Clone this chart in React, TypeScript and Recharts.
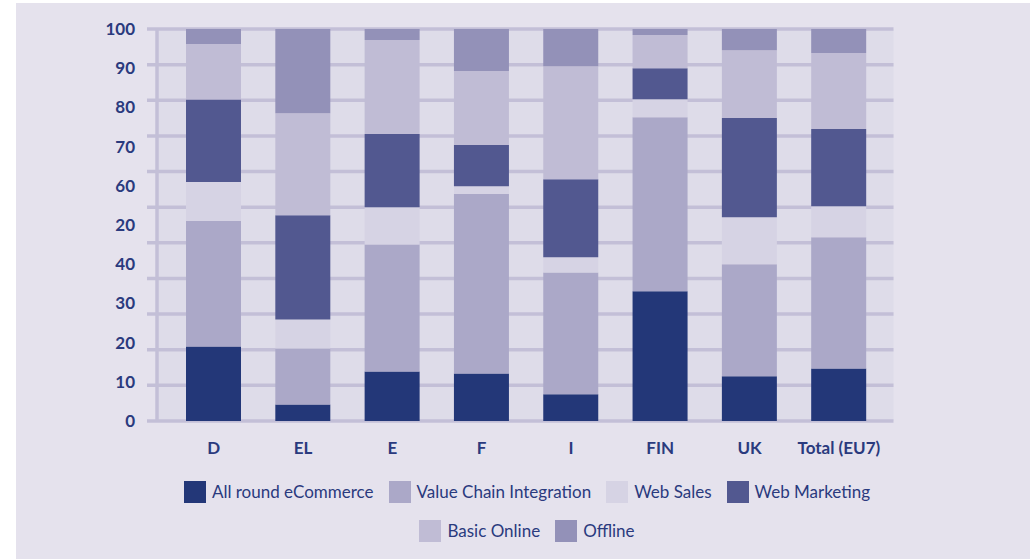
import React from 'react';
import { BarChart, Bar, XAxis, YAxis, CartesianGrid, Legend } from 'recharts';

const categories = ['D', 'EL', 'E', 'F', 'I', 'FIN', 'UK', 'Total (EU7)'];
const allRound = [19, 4.2, 12.6, 12.1, 6.8, 33.1, 11.4, 13.4];
const valueChain = [32, 14.3, 32.4, 45.8, 31.1, 44.4, 28.6, 33.5];
const webSales = [10, 7.4, 9.5, 2, 3.9, 4.6, 12, 7.9];
const webMarketing = [21, 26.6, 18.7, 10.5, 19.9, 7.9, 25.3, 19.7];
const basicOnline = [14.2, 26, 24, 18.9, 28.8, 8.5, 17.3, 19.4];
const offline = [3.8, 21.5, 2.8, 10.7, 9.5, 1.5, 5.4, 6.1];

const yTicks = [0, 10, 20, 30, 40, 50, 60, 70, 80, 90, 100];
const yTickLabels = ['0', '10', '20', '30', '40', '20', '60', '70', '80', '90', '100'];
// the original draws 11 grid bands over the 0–100 range
const gridDivisions = 11;

const seriesKeys = ['allRound', 'valueChain', 'webSales', 'webMarketing', 'basicOnline', 'offline'];
const seriesNames = ['All round eCommerce', 'Value Chain Integration', 'Web Sales', 'Web Marketing', 'Basic Online', 'Offline'];
const seriesColors = ['#233778', '#aba8c8', '#d6d3e4', '#525890', '#c0bcd5', '#9391b8'];
const seriesValues = [allRound, valueChain, webSales, webMarketing, basicOnline, offline];

const data = categories.map((name, i) => {
  const row: any = { name };
  seriesKeys.forEach((k, s) => {
    row[k] = seriesValues[s][i];
  });
  return row;
});

const TEXT = '#2a3a7e';
const GRID = '#c3bfd7';
const PLOT_BG = '#dedce9';
const PANEL = '#e5e2ed';
const FONT = 'Lato, "Open Sans", sans-serif';

const LegendItem = ({ idx }: { idx: number }) => (
  <div style={{ display: 'flex', alignItems: 'center', marginRight: 15 }}>
    <div style={{ width: 22, height: 22, background: seriesColors[idx], marginRight: 6 }} />
    <span style={{ fontFamily: FONT, fontSize: 17, color: TEXT, lineHeight: '22px' }}>{seriesNames[idx]}</span>
  </div>
);

const CustomLegend = () => (
  <div style={{ position: 'relative', width: 1014, height: 80 }}>
    <div style={{ position: 'absolute', top: 20, left: 0, width: '100%', display: 'flex', justifyContent: 'center', paddingLeft: 23, boxSizing: 'border-box' }}>
      {[0, 1, 2, 3].map((i) => <LegendItem key={i} idx={i} />)}
    </div>
    <div style={{ position: 'absolute', top: 59, left: 0, width: '100%', display: 'flex', justifyContent: 'center', paddingLeft: 23, boxSizing: 'border-box' }}>
      {[4, 5].map((i) => <LegendItem key={i} idx={i} />)}
    </div>
  </div>
);

const gridGenerator = ({ offset }: any) => {
  const pts: number[] = [];
  for (let i = 0; i <= gridDivisions; i++) {
    pts.push(offset.top + (offset.height * i) / gridDivisions);
  }
  return pts;
};

const GridLine = (p: any) => (
  <line
    key={p.key ?? `${p.y1}`}
    x1={p.x1 - 10}
    y1={p.y1}
    x2={p.x2}
    y2={p.y2}
    stroke={GRID}
    strokeWidth={3.5}
  />
);

export default function App() {
  return (
    <div style={{ position: 'absolute', left: 0, top: 0, width: 1036, height: 559, background: '#ffffff' }}>
      <div style={{ position: 'absolute', left: 16, top: 3, width: 1014, height: 556, background: PANEL }}>
        <BarChart
          width={1014}
          height={556}
          data={data}
          margin={{ top: 26, right: 136.5, left: 0, bottom: 18 }}
          barSize={55}
        >
          <CartesianGrid
            yAxisId="val"
            vertical={false}
            horizontal={GridLine}
            horizontalCoordinatesGenerator={gridGenerator}
            stroke={GRID}
            strokeWidth={3.5}
            fill={PLOT_BG}
            fillOpacity={1}
          />
          <XAxis
            dataKey="name"
            axisLine={false}
            tickLine={false}
            tickSize={0}
            tickMargin={21}
            height={40}
            padding={{ left: 12, right: 10 }}
            interval={0}
            tick={{ fill: TEXT, fontSize: 17, fontWeight: 700, fontFamily: FONT }}
          />
          <YAxis
            yAxisId="val"
            orientation="left"
            width={141}
            domain={[0, 100]}
            ticks={yTicks}
            interval={0}
            tickSize={0}
            tickMargin={22}
            axisLine={{ stroke: GRID, strokeWidth: 3.5 }}
            tickLine={false}
            tickFormatter={(v: number) => yTickLabels[yTicks.indexOf(v)]}
            tick={{ fill: TEXT, fontSize: 17, fontWeight: 700, fontFamily: FONT }}
          />
          <YAxis
            yAxisId="right"
            orientation="right"
            width={0}
            domain={[0, 1]}
            tick={false}
            tickLine={false}
            axisLine={{ stroke: GRID, strokeWidth: 3.5 }}
          />
          <Legend
            verticalAlign="bottom"
            width={1014}
            wrapperStyle={{ left: 0 }}
            content={() => <CustomLegend />}
          />
          {seriesKeys.map((k, s) => (
            <Bar
              key={k}
              yAxisId="val"
              dataKey={k}
              name={seriesNames[s]}
              stackId="a"
              fill={seriesColors[s]}
              isAnimationActive={false}
            />
          ))}
        </BarChart>
      </div>
    </div>
  );
}
